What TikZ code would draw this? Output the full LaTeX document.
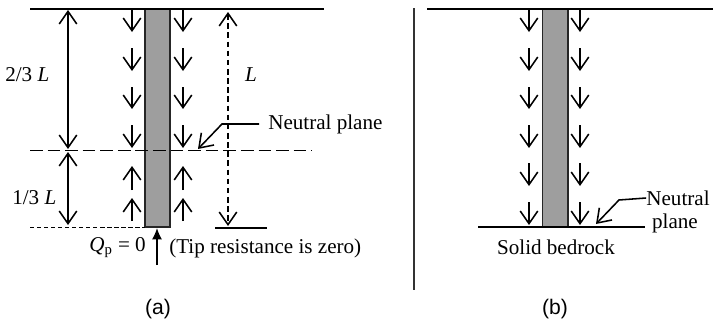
\documentclass[tikz,border=0pt]{standalone}
\usepackage{fontspec}
\setmainfont{Liberation Serif}
\setsansfont{Liberation Sans}
\usetikzlibrary{arrows.meta}

\tikzset{
  label text/.style={inner sep=0pt, font=\fontsize{15}{17}\selectfont},
  caption text/.style={inner sep=0pt, font=\sffamily\fontsize{15}{17}\selectfont},
  flow/.style={->, line width=1.1pt},
  dim/.style={<->, line width=1.1pt},
  ground/.style={line width=0.9pt},
  pile/.style={draw=black!85, fill=black!38, line width=1pt}
}

\begin{document}
\begin{tikzpicture}[x=0.025cm, y=-0.025cm, >={Straight Barb[length=9pt,width=12.5pt]}]
  \useasboundingbox (0,0) rectangle (713,322);

  % (a) floating pile
  \draw[pile] (145,9) rectangle (170,227);

  \coordinate (topaw) at (30,9);
  \coordinate (topae) at (324,9);
  \coordinate (midaw) at (30,150.5);
  \coordinate (midae) at (312,150.5);
  \coordinate (botaw) at (30,227);
  \coordinate (botae) at (145,227);
  \coordinate (baseaw) at (215,228);
  \coordinate (baseae) at (267,228);

  \draw[ground] (topaw) -- (topae);
  \draw[line width=1pt, dash pattern=on 9pt off 3.5pt] (midaw) -- (midae);
  \draw[line width=0.7pt, dash pattern=on 3pt off 2pt] (botaw) -- (botae);
  \draw[ground] (baseaw) -- (baseae);

  \coordinate (dimat) at (68,10);
  \coordinate (dimam) at (68,149);
  \coordinate (dimbt) at (68,152);
  \coordinate (dimbb) at (68,225);
  \coordinate (dimlt) at (228,12);
  \coordinate (dimlb) at (228,226);

  \draw[dim] (dimat) -- (dimam);
  \draw[dim] (dimbt) -- (dimbb);
  \draw[dim, dash pattern=on 4pt off 2.5pt] (dimlt) -- (dimlb);

  \node[label text, anchor=west] (twothirds) at (5,75) {2/3 \textit{L}};
  \node[label text, anchor=west] (onethird) at (12,198) {1/3 \textit{L}};
  \node[label text] (ltext) at (251,75) {\textit{L}};

  % (a) arrows, left of the pile
  \coordinate (la1) at (132,9);   \coordinate (la1e) at (132,32);
  \coordinate (la2) at (132,48);  \coordinate (la2e) at (132,71);
  \coordinate (la3) at (132,87);  \coordinate (la3e) at (132,109);
  \coordinate (la4) at (132,125); \coordinate (la4e) at (132,148);
  \coordinate (la5) at (132,190); \coordinate (la5e) at (132,166);
  \coordinate (la6) at (132,221); \coordinate (la6e) at (132,198);
  \draw[flow] (la1) -- (la1e);
  \draw[flow] (la2) -- (la2e);
  \draw[flow] (la3) -- (la3e);
  \draw[flow] (la4) -- (la4e);
  \draw[flow] (la5) -- (la5e);
  \draw[flow] (la6) -- (la6e);

  % (a) arrows, right of the pile
  \coordinate (ra1) at (183,9);   \coordinate (ra1e) at (183,32);
  \coordinate (ra2) at (183,48);  \coordinate (ra2e) at (183,71);
  \coordinate (ra3) at (183,87);  \coordinate (ra3e) at (183,109);
  \coordinate (ra4) at (183,125); \coordinate (ra4e) at (183,148);
  \coordinate (ra5) at (183,190); \coordinate (ra5e) at (183,166);
  \coordinate (ra6) at (183,221); \coordinate (ra6e) at (183,198);
  \draw[flow] (ra1) -- (ra1e);
  \draw[flow] (ra2) -- (ra2e);
  \draw[flow] (ra3) -- (ra3e);
  \draw[flow] (ra4) -- (ra4e);
  \draw[flow] (ra5) -- (ra5e);
  \draw[flow] (ra6) -- (ra6e);

  \node[label text, anchor=west] (neutrala) at (268,124) {Neutral plane};
  \coordinate (starta) at (259,124);
  \coordinate (benda) at (222,124);
  \coordinate (pointa) at (198,149);
  \draw[flow] (starta) -- (benda) -- (pointa);

  \node[label text, anchor=east] (qp) at (146,248) {\textit{Q}\textsubscript{p} = 0};
  \node[label text, anchor=west] (tip) at (169,248) {(Tip resistance is zero)};
  \coordinate (tipa) at (157,265);
  \coordinate (tipb) at (157,228);
  \draw[-{Latex[length=8pt,width=7pt]}, line width=1pt] (tipa) -- (tipb);

  \node[caption text] (capa) at (158,309) {(a)};

  % divider
  \coordinate (divt) at (414,8);
  \coordinate (divb) at (414,290);
  \draw[line width=1pt, black!80] (divt) -- (divb);

  % (b) pile on bedrock
  \draw[pile] (542.5,9) rectangle (568,227);

  \coordinate (topbw) at (427,9);
  \coordinate (topbe) at (713,9);
  \coordinate (rockw) at (478,227);
  \coordinate (rocke) at (645,227);
  \draw[ground] (topbw) -- (topbe);
  \draw[ground] (rockw) -- (rocke);

  % (b) arrows, left of the pile
  \coordinate (lb1) at (529,9);   \coordinate (lb1e) at (529,32);
  \coordinate (lb2) at (529,48);  \coordinate (lb2e) at (529,71);
  \coordinate (lb3) at (529,87);  \coordinate (lb3e) at (529,109);
  \coordinate (lb4) at (529,125); \coordinate (lb4e) at (529,148);
  \coordinate (lb5) at (529,163); \coordinate (lb5e) at (529,186);
  \coordinate (lb6) at (529,202); \coordinate (lb6e) at (529,225);
  \draw[flow] (lb1) -- (lb1e);
  \draw[flow] (lb2) -- (lb2e);
  \draw[flow] (lb3) -- (lb3e);
  \draw[flow] (lb4) -- (lb4e);
  \draw[flow] (lb5) -- (lb5e);
  \draw[flow] (lb6) -- (lb6e);

  % (b) arrows, right of the pile
  \coordinate (rb1) at (580,9);   \coordinate (rb1e) at (580,32);
  \coordinate (rb2) at (580,48);  \coordinate (rb2e) at (580,71);
  \coordinate (rb3) at (580,87);  \coordinate (rb3e) at (580,109);
  \coordinate (rb4) at (580,125); \coordinate (rb4e) at (580,148);
  \coordinate (rb5) at (580,163); \coordinate (rb5e) at (580,186);
  \coordinate (rb6) at (580,202); \coordinate (rb6e) at (580,225);
  \draw[flow] (rb1) -- (rb1e);
  \draw[flow] (rb2) -- (rb2e);
  \draw[flow] (rb3) -- (rb3e);
  \draw[flow] (rb4) -- (rb4e);
  \draw[flow] (rb5) -- (rb5e);
  \draw[flow] (rb6) -- (rb6e);

  \node[label text] (neutralb) at (678,198) {Neutral};
  \node[label text] (planeb) at (675,223) {plane};
  \coordinate (bendb) at (619,200);
  \coordinate (pointb) at (596,224);
  \draw[flow] (neutralb.west) -- (bendb) -- (pointb);

  \node[label text] (rock) at (556,247) {Solid bedrock};
  \node[caption text] (capb) at (555,309) {(b)};
\end{tikzpicture}
\end{document}
